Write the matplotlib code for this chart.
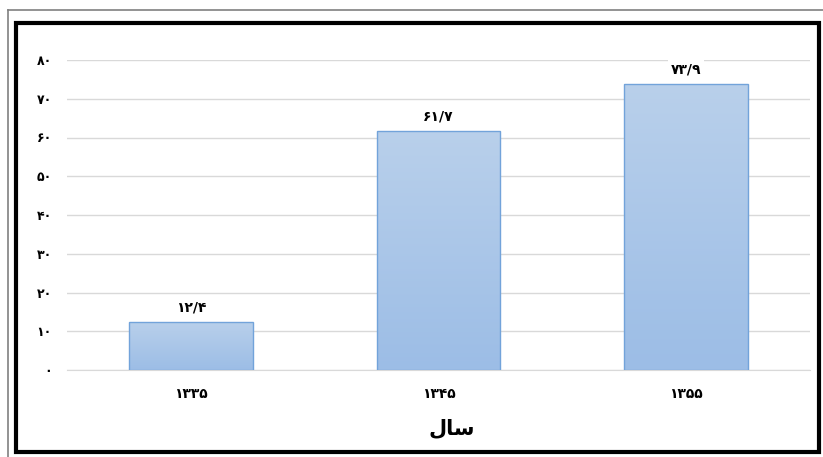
import numpy as np
import matplotlib
matplotlib.use("Agg")
import matplotlib.pyplot as plt
from matplotlib.patches import Rectangle
from matplotlib.lines import Line2D

# data
years = [1335, 1345, 1355]
values = [12.4, 61.7, 73.9]
y_ticks = [0, 10, 20, 30, 40, 50, 60, 70, 80]
x_label = "\uFEDD\uFE8E\uFEB3"  # "سال" in presentation forms, visual order

FA_DIGITS = str.maketrans("0123456789.", "۰۱۲۳۴۵۶۷۸۹/")


def to_fa(v):
    return str(v).translate(FA_DIGITS)


plt.rcParams['font.family'] = ['DejaVu Sans', 'Noto Sans']

W, H = 823, 457
fig = plt.figure(figsize=(W / 100, H / 100), dpi=100)

# borders (pixel coords -> figure fraction)
def fx(px):
    return px / W

def fy(py):
    return 1 - py / H

fig.add_artist(Line2D([fx(8), fx(8)], [fy(10), fy(457)], color="#808080", lw=1.2))
fig.add_artist(Line2D([fx(8), fx(823)], [fy(10), fy(10)], color="#808080", lw=1.2))
fig.add_artist(Rectangle((fx(16), fy(452)), fx(819) - fx(16), fy(23) - fy(452),
                         fill=False, edgecolor="black", lw=3))

ax = fig.add_axes([fx(67), fy(370), fx(810) - fx(67), fy(60) - fy(370)])
x = np.arange(len(years))
bars = ax.bar(x, values, width=0.5, color="none", edgecolor="#72a3da", lw=1.0, zorder=3)

# vertical gradient inside each bar
grad = np.linspace(0, 1, 256).reshape(-1, 1)
cmap = matplotlib.colors.LinearSegmentedColormap.from_list("g", ["#9cbde6", "#b9d0eb"])
for b in bars:
    im = ax.imshow(grad, cmap=cmap, aspect="auto", origin="lower",
                   extent=[b.get_x(), b.get_x() + b.get_width(), 0, b.get_height()], zorder=2)
    im.set_clip_path(b)

ax.set_xlim(-0.5, 2.5)
ax.set_ylim(0, 80)
ax.set_yticks(y_ticks)
ax.set_yticklabels([to_fa(t) for t in y_ticks], fontsize=9, fontweight="bold")
ax.set_xticks(x)
ax.set_xticklabels([to_fa(y) for y in years], fontsize=10, fontweight="bold")
ax.tick_params(axis="y", length=0, pad=11)
ax.tick_params(axis="x", length=0, pad=12)
ax.grid(axis="y", color="#d9d9d9", lw=1.0, zorder=0)
ax.set_axisbelow(True)
for s in ["top", "right", "left"]:
    ax.spines[s].set_visible(False)
ax.spines["bottom"].set_color("#d9d9d9")

for xi, v in zip(x, values):
    ax.text(xi, v + 1.8, to_fa(v), ha="center", va="bottom", fontsize=10, fontweight="bold",
            bbox=dict(facecolor="white", edgecolor="none", pad=2), zorder=4)

fig.text(fx(452), fy(428), x_label, ha="center", va="center", fontsize=15, fontweight="bold")

fig.savefig("out.png", dpi=100)
